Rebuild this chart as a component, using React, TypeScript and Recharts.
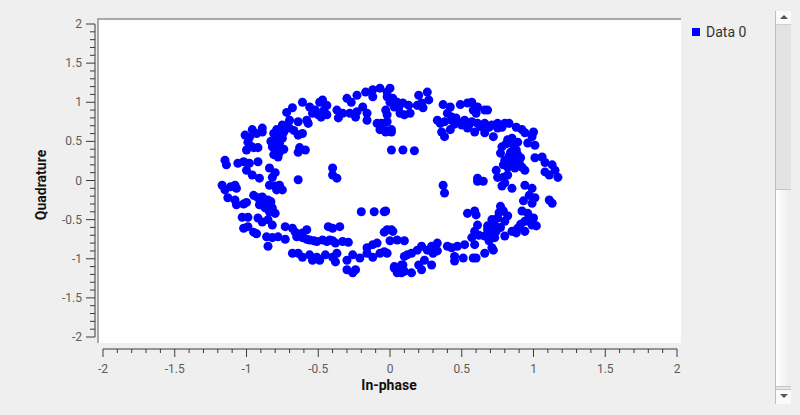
import { ScatterChart, Scatter, XAxis, YAxis, ZAxis } from 'recharts'

// constellation points [in-phase, quadrature], grouped by where they sit on the ring
const topArc = [
  [-0.72, 0.87], [-0.68, 0.93], [-0.61, 1.0], [-0.56, 0.94], [-0.49, 1.0], [-0.47, 1.03], [-0.44, 0.96],
  [-0.54, 0.86], [-0.48, 0.81], [-0.44, 0.84], [-0.58, 0.77], [-0.57, 0.73], [-0.37, 0.9], [-0.33, 0.86],
  [-0.36, 0.8], [-0.3, 1.05], [-0.27, 1.0], [-0.23, 1.09], [-0.28, 0.86], [-0.23, 0.88], [-0.19, 0.94],
  [-0.16, 0.86], [-0.24, 0.81], [-0.17, 1.13], [-0.12, 1.16], [-0.07, 1.18], [-0.02, 1.13], [-0.12, 1.07],
  [-0.16, 0.77], [-0.09, 0.73], [-0.06, 0.73], [-0.07, 0.65], [-0.03, 0.62], [0.01, 0.65],
  [-0.52, 0.9], [-0.5, 0.84], [-0.46, 0.9],
  [0.0, 1.18], [-0.02, 1.07], [0.02, 1.05], [0.05, 1.0], [0.03, 0.94], [0.09, 0.99], [0.13, 0.96],
  [0.07, 0.86], [0.1, 0.84], [0.14, 0.86], [0.2, 1.09], [0.26, 1.13], [0.27, 1.03], [0.22, 0.99],
  [0.23, 0.93], [0.19, 0.96], [-0.03, 0.9], [-0.02, 0.84], [-0.02, 0.75], [-0.03, 0.64], [0.01, 0.62],
  [0.06, 0.93], [0.0, 1.0],
  [0.37, 0.97], [0.42, 0.94], [0.4, 0.86], [0.43, 0.81], [0.49, 0.97], [0.54, 0.99], [0.57, 1.0],
  [0.58, 0.9], [0.61, 0.94], [0.66, 0.9], [0.68, 0.9], [0.6, 0.86],
  [0.33, 0.77], [0.38, 0.75], [0.43, 0.77], [0.47, 0.75], [0.52, 0.77], [0.57, 0.75], [0.61, 0.73],
  [0.66, 0.73], [0.71, 0.71], [0.75, 0.73], [0.8, 0.73], [0.83, 0.73], [0.36, 0.62], [0.42, 0.65],
  [0.38, 0.56], [0.54, 0.67], [0.59, 0.62], [0.66, 0.61], [0.72, 0.56], [0.75, 0.67], [0.78, 0.68],
  [0.35, 0.73], [0.45, 0.72], [0.55, 0.71], [0.63, 0.69], [0.69, 0.68], [0.46, 0.8], [0.5, 0.71],
]

const rightArc = [
  [0.88, 0.68], [0.92, 0.65], [0.94, 0.61], [1.0, 0.62], [0.99, 0.56], [0.96, 0.48], [1.01, 0.45],
  [0.82, 0.52], [0.85, 0.54], [0.89, 0.49], [0.78, 0.43], [0.77, 0.35], [0.84, 0.36], [0.88, 0.39],
  [0.8, 0.26], [0.86, 0.26], [0.91, 0.29], [0.82, 0.17], [0.87, 0.16], [0.92, 0.17], [0.94, 0.13],
  [0.81, 0.47], [0.86, 0.45], [0.83, 0.31], [0.89, 0.33], [0.84, 0.21], [0.79, 0.2], [0.9, 0.23], [0.84, 0.5],
  [1.01, 0.29], [1.06, 0.3], [1.08, 0.23], [1.13, 0.2], [1.15, 0.13], [1.08, 0.11], [1.11, 0.07],
  [1.17, 0.04], [0.74, 0.13], [0.75, 0.04], [0.79, 0.04], [0.82, 0.07], [0.61, 0.03],
  [0.8, -0.03], [0.85, -0.1], [0.78, -0.07], [0.94, -0.06], [0.99, -0.1], [0.97, -0.19], [1.01, -0.22],
  [0.93, -0.26], [0.99, -0.29], [1.11, -0.25], [1.13, -0.29], [0.61, -0.01], [0.65, -0.01],
  [0.54, -0.42], [0.59, -0.39], [0.6, -0.44], [0.77, -0.33], [0.79, -0.39], [0.75, -0.48], [0.73, -0.57],
  [0.8, -0.52], [0.82, -0.45], [0.92, -0.39], [0.96, -0.42], [1.0, -0.48], [0.94, -0.52], [0.89, -0.61],
  [0.94, -0.65], [0.99, -0.57], [1.02, -0.58], [0.85, -0.65], [0.8, -0.71], [0.88, -0.67],
  [0.76, -0.41], [0.71, -0.5], [0.77, -0.6], [0.74, -0.65], [0.97, -0.52], [0.91, -0.56],
]

const bottomArc = [
  [0.68, -0.58], [0.71, -0.67], [0.66, -0.71], [0.73, -0.73], [0.69, -0.77], [0.61, -0.57], [0.59, -0.65],
  [0.62, -0.7], [0.57, -0.73], [0.71, -0.86], [0.66, -0.93], [0.72, -0.89], [0.59, -0.82], [0.58, -0.99],
  [0.6, -0.99], [0.51, -0.99], [0.45, -0.97], [0.45, -1.03], [0.52, -0.82], [0.47, -0.84], [0.43, -0.86],
  [0.4, -0.84], [0.33, -0.8], [0.29, -0.84], [0.26, -0.89], [0.22, -0.84], [0.19, -0.89], [0.15, -0.93],
  [0.1, -0.97], [0.33, -0.9], [0.3, -0.93], [0.24, -1.02], [0.29, -1.08], [0.2, -1.08], [0.22, -1.14],
  [0.08, -1.08], [0.03, -1.12], [0.05, -1.18], [0.1, -1.16], [0.15, -1.18], [0.12, -0.95], [0.03, -1.1],
  [0.09, -1.08], [0.08, -1.18], [0.68, -0.63], [0.7, -0.72],
  [-0.73, -0.59], [-0.68, -0.61], [-0.66, -0.66], [-0.61, -0.67], [-0.58, -0.63], [-0.65, -0.72],
  [-0.61, -0.73], [-0.56, -0.76], [-0.51, -0.78], [-0.47, -0.76], [-0.42, -0.76], [-0.38, -0.8],
  [-0.33, -0.78], [-0.43, -0.59], [-0.4, -0.61], [-0.35, -0.59], [-0.29, -0.79], [-0.68, -0.93],
  [-0.64, -0.93], [-0.61, -0.98], [-0.56, -0.95], [-0.51, -0.98], [-0.45, -0.95], [-0.4, -0.98],
  [-0.37, -0.93], [-0.54, -1.02], [-0.49, -1.02], [-0.38, -1.04], [-0.3, -1.02], [-0.26, -0.95],
  [-0.21, -0.99], [-0.16, -0.93], [-0.12, -0.98], [-0.07, -0.93], [-0.04, -0.91], [-0.3, -1.14],
  [-0.24, -1.14], [-0.26, -1.18], [-0.12, -0.82], [-0.09, -0.8], [-0.16, -0.86], [-0.02, -0.93],
  [-0.86, -0.72], [-0.82, -0.73], [-0.78, -0.72], [-0.73, -0.75], [-0.85, -0.84],
  [-0.58, -0.75], [-0.53, -0.77], [-0.44, -0.78], [-0.4, -0.77], [-0.63, -0.7],
]

const leftArc = [
  [-1.15, 0.26], [-1.14, 0.2], [-1.01, 0.58], [-0.96, 0.65], [-0.89, 0.67], [-0.89, 0.62], [-0.99, 0.49],
  [-1.0, 0.39], [-0.95, 0.42], [-0.92, 0.42], [-0.79, 0.65], [-0.75, 0.71], [-0.8, 0.52], [-0.75, 0.54],
  [-0.82, 0.43], [-0.77, 0.36], [-0.78, 0.3], [-0.7, 0.67], [-0.64, 0.58], [-0.64, 0.75], [-0.7, 0.77],
  [-0.79, 0.58], [-0.77, 0.47], [-0.8, 0.4], [-0.74, 0.62], [-0.81, 0.6], [-0.77, 0.6], [-0.83, 0.5],
  [-0.78, 0.41], [-0.81, 0.33], [-0.74, 0.4], [-0.72, 0.7], [-0.67, 0.64], [-0.61, 0.6],
  [-0.98, 0.55], [-0.97, 0.44], [-0.93, 0.6],
  [-0.84, 0.16], [-0.8, 0.1], [-0.82, 0.04], [-1.02, 0.24], [-0.98, 0.22], [-0.92, 0.24], [-1.0, 0.13],
  [-0.96, 0.07], [-0.91, 0.03], [-1.06, 0.22],
  [-1.17, -0.06], [-1.15, -0.12], [-1.11, -0.08], [-1.08, -0.06], [-1.07, -0.1], [-1.13, -0.22],
  [-1.08, -0.25], [-1.07, -0.31], [-1.02, -0.3], [-1.0, -0.28], [-0.95, -0.19], [-0.92, -0.22],
  [-0.89, -0.21], [-0.85, -0.25], [-0.91, -0.31], [-0.87, -0.35], [-0.82, -0.35], [-0.84, -0.4],
  [-0.8, -0.42], [-1.03, -0.47], [-0.99, -0.47], [-0.92, -0.48], [-0.85, -0.5], [-0.82, -0.57],
  [-0.89, -0.53], [-1.02, -0.61], [-0.99, -0.59], [-0.95, -0.66], [-0.93, -0.68], [-0.84, -0.06],
  [-0.8, -0.07], [-0.77, -0.06], [-0.79, -0.12], [-0.75, -0.12],
  [-0.87, -0.28], [-0.84, -0.31], [-0.88, -0.24], [-0.83, -0.27],
]

const innerPoints = [
  [0.37, -0.06], [0.38, -0.16], [0.05, -0.76], [0.1, -0.77], [0.0, -0.77], [-0.02, -0.63], [0.02, -0.65],
  [-0.03, -0.39], [-0.2, -0.4], [-0.11, -0.4], [-0.04, -0.4], [-0.04, -0.66], [0.01, -0.63],
  [0.01, 0.39], [0.09, 0.39], [0.17, 0.38], [-0.4, 0.16], [-0.4, 0.07], [-0.37, 0.03], [-0.64, 0.01],
  [-0.63, 0.42], [-0.59, 0.39], [-0.64, 0.36],
]

const majorTicks = [-2, -1.5, -1, -0.5, 0, 0.5, 1, 1.5, 2]
const seriesName = 'Data 0'

// 4 minor ticks between each pair of labelled ones
const allTicks = majorTicks.flatMap((t, i) =>
  i === majorTicks.length - 1 ? [t] : [t, t + 0.1, t + 0.2, t + 0.3, t + 0.4].map(v => Math.round(v * 10) / 10))

const points = [...topArc, ...rightArc, ...bottomArc, ...leftArc, ...innerPoints].map(([x, y]) => ({ x, y }))

const W = 800
const H = 415
const PLOT_W = 574
const PLOT_H = 313
const LINE = '#3a3a3a'
const LABEL = '#5c5c5c'
const FONT = 'Roboto, "Noto Sans", sans-serif'

const isMajor = (v: number) => Math.abs(v * 2 - Math.round(v * 2)) < 1e-6

function XTick(props: any) {
  const { x, y, payload, index } = props
  const v = payload.value
  const major = isMajor(v)
  const ay = y + 12
  return (
    <g>
      {index === 0 && <line x1={x} x2={x + PLOT_W} y1={ay} y2={ay} stroke={LINE} />}
      <line x1={x} x2={x} y1={ay} y2={ay + (major ? 8 : 4)} stroke={LINE} />
      {major && (
        <text x={x} y={ay + 24} textAnchor="middle" fill={LABEL} fontSize={12} fontFamily={FONT}>{String(v)}</text>
      )}
    </g>
  )
}

function YTick(props: any) {
  const { x, y, payload, index } = props
  const v = payload.value
  const major = isMajor(v)
  const ax = x - 8
  return (
    <g>
      {index === 0 && <line x1={ax} x2={ax} y1={y} y2={y - PLOT_H} stroke={LINE} />}
      <line x1={ax - (major ? 9 : 5)} x2={ax} y1={y} y2={y} stroke={LINE} />
      {major && (
        <text x={ax - 13} y={y + 4} textAnchor="end" fill={LABEL} fontSize={12} fontFamily={FONT}>{String(v)}</text>
      )}
    </g>
  )
}

const Tri = ({ up }: { up: boolean }) => (
  <div style={{
    width: 0, height: 0, margin: '0 auto',
    borderLeft: '4px solid transparent', borderRight: '4px solid transparent',
    [up ? 'borderBottom' : 'borderTop']: '4px solid #555',
  }} />
)

export default function App() {
  return (
    <div style={{ position: 'fixed', left: 0, top: 0, width: W, height: H, background: '#efefef', fontFamily: FONT, overflow: 'hidden' }}>
      {/* plot canvas */}
      <div style={{
        position: 'absolute', left: 97, top: 18, width: 584, height: 325, boxSizing: 'border-box',
        background: '#fff', borderTop: '2px solid #a8a8a8', borderLeft: '2px solid #a8a8a8',
      }} />

      <div style={{ position: 'absolute', left: 0, top: 0 }}>
        <ScatterChart width={W} height={H} margin={{ top: 24, right: 123, bottom: 48, left: 43 }}>
          <XAxis
            type="number" dataKey="x" domain={[-2, 2]} ticks={allTicks} interval={0} allowDataOverflow
            height={30} axisLine={false} tickLine={false} tickSize={0} tickMargin={0} tick={<XTick />}
            label={{
              content: () => (
                <text x={389} y={390} textAnchor="middle" fontSize={14} fontWeight="bold" fill="#111" fontFamily={FONT}>In-phase</text>
              ),
            }}
          />
          <YAxis
            type="number" dataKey="y" domain={[-2, 2]} ticks={allTicks} interval={0} allowDataOverflow
            width={60} axisLine={false} tickLine={false} tickSize={0} tickMargin={0} tick={<YTick />}
            label={{
              content: () => (
                <text x={0} y={0} transform="translate(46 185) rotate(-90)" textAnchor="middle" fontSize={14} fontWeight="bold" fill="#111" fontFamily={FONT}>Quadrature</text>
              ),
            }}
          />
          <ZAxis range={[56, 56]} />
          <Scatter name={seriesName} data={points} fill="#0000ff" isAnimationActive={false} />
        </ScatterChart>
      </div>

      {/* legend */}
      <div style={{ position: 'absolute', left: 692, top: 24, display: 'flex', alignItems: 'center', fontSize: 14, color: '#333' }}>
        <span style={{ width: 8, height: 8, background: '#0000ff', display: 'inline-block', marginRight: 6 }} />
        {seriesName}
      </div>

      {/* scrollbar */}
      <div style={{ position: 'absolute', left: 775, top: 11, width: 15, height: 393, borderLeft: '1px solid #bdbdbd', background: '#f7f7f7' }}>
        <div style={{ height: 13, paddingTop: 4, boxSizing: 'border-box', background: '#fafafa' }}><Tri up /></div>
        <div style={{ height: 166, background: '#e3e3e3', borderTop: '1px solid #cfcfcf', borderBottom: '1px solid #c4c4c4', boxSizing: 'border-box' }} />
        <div style={{ height: 196, background: 'linear-gradient(to right, #ffffff, #ececec)' }} />
        <div style={{ height: 4, borderTop: '1px solid #c4c4c4', borderBottom: '1px solid #c4c4c4', boxSizing: 'border-box', background: '#e8e8e8' }} />
        <div style={{ height: 14, paddingTop: 4, boxSizing: 'border-box', background: '#fafafa' }}><Tri up={false} /></div>
      </div>
    </div>
  )
}
